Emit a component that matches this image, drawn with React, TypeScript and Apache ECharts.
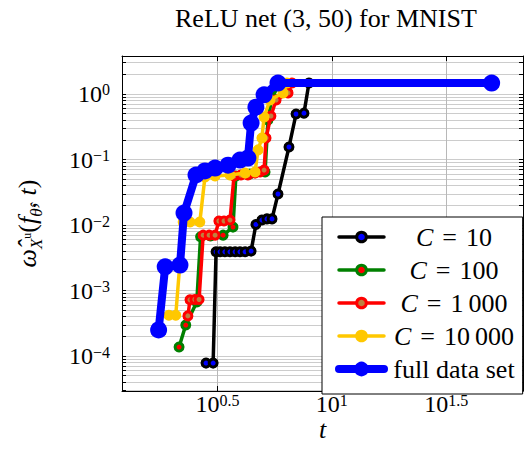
import React, { useEffect, useRef } from "react";
import * as echarts from "echarts";

const titleText = "ReLU net (3, 50) for MNIST";
const seriesNames = ["C = 10", "C = 100", "C = 1 000", "C = 10 000", "full data set"];
const legendLabels = [
  "{c|C}{e|=}{n|10}",
  "{c|C}{e|=}{n|100}",
  "{c|C}{e|=}{n|1\u2009000}",
  "{c|C}{e|=}{n|10\u2009000}",
  "{n|full data set}",
];

// C = 10
const tC10 = [2.82, 3.03, 3.12, 3.25, 3.41, 3.59, 3.78, 3.97, 4.18, 4.44, 4.66, 4.95, 5.21, 5.48, 5.82, 6.5, 6.98, 7.56, 7.95, 50];
const wC10 = [7.8e-5, 7.8e-5, 3.9e-3, 3.9e-3, 3.9e-3, 3.9e-3, 3.9e-3, 3.9e-3, 3.9e-3, 4.0e-3, 0.0102, 0.0119, 0.0124, 0.0124, 0.0297, 0.155, 0.495, 0.51, 1.47, 1.47];
// C = 100
const tC100 = [2.15, 2.3, 2.57, 2.67, 2.95, 3.35, 3.7, 3.81, 4.38, 5.11, 5.26, 5.48, 5.95, 50];
const wC100 = [1.37e-4, 2.97e-4, 6.7e-4, 6.6e-3, 6.8e-3, 7.0e-3, 9.3e-3, 0.056, 0.06, 0.0645, 0.4, 0.9, 1.47, 1.47];
// C = 1 000
const tC1000 = [2.35, 2.4, 2.52, 2.63, 2.74, 2.91, 3.09, 3.21, 3.38, 3.59, 3.74, 4.01, 4.3, 4.62, 4.86, 5.06, 5.16, 5.42, 5.71, 6.44, 6.7, 50];
const wC1000 = [4.1e-4, 7.2e-4, 7.3e-4, 7.3e-4, 7.0e-3, 7.0e-3, 7.0e-3, 0.0115, 0.0115, 0.0119, 0.056, 0.058, 0.058, 0.062, 0.0645, 0.069, 0.213, 0.461, 0.81, 1.04, 1.47, 1.47];
// C = 10 000
const tC10000 = [1.94, 2.08, 2.24, 2.4, 2.65, 2.79, 3.09, 3.59, 4.18, 4.62, 4.76, 4.95, 5.06, 5.37, 6.12, 6.37, 50];
const wC10000 = [4.2e-4, 4.2e-4, 0.0111, 0.0111, 0.0111, 0.054, 0.056, 0.058, 0.062, 0.0645, 0.14, 0.213, 0.446, 0.81, 1.04, 1.47, 1.47];
// full data set
const tFull = [1.75, 1.87, 2.17, 2.26, 2.55, 2.79, 3.09, 3.52, 3.97, 4.3, 4.44, 4.66, 5.06, 5.82, 50];
const wFull = [2.5e-4, 2.3e-3, 2.45e-3, 0.0152, 0.058, 0.067, 0.074, 0.082, 0.098, 0.105, 0.36, 0.63, 0.97, 1.47, 1.47];

const xTickExps = [0.5, 1, 1.5];
const xTickLabels = ["0.5", "1", "1.5"];
const yTickExps = [-4, -3, -2, -1, 0];
const yTickLabels = ["\u22124", "\u22123", "\u22122", "\u22121", "0"];
const minorMultipliers = [1, 2, 3, 4, 5, 6, 7, 8, 9];

const xLogMin = 0.083;
const xLogMax = 1.836;
const yLogMin = -4.534;
const yLogMax = 0.58;

const styles = [
  { line: "#000000", lw: 3.5, fill: "#0000ff", border: "#000000", size: 8, bw: 3, lgBw: 3 },
  { line: "#008000", lw: 3.5, fill: "#ff0000", border: "#008000", size: 8, bw: 3, lgBw: 3 },
  { line: "#ff0000", lw: 3.5, fill: "#bf8040", border: "#ff0000", size: 8, bw: 3, lgBw: 3 },
  { line: "#ffc800", lw: 3.5, fill: "#ffc800", border: "#ffc800", size: 8, bw: 3, lgBw: 3 },
  { line: "#0000ff", lw: 8, fill: "#0000ff", border: "#0000ff", size: 17, bw: 0, lgBw: 5 },
];

const SERIF = "Liberation Serif";

export default function App() {
  const ref = useRef<HTMLDivElement>(null);
  useEffect(() => {
    document.body.style.margin = "0";
    const chart = echarts.init(ref.current!, null, { renderer: "svg" });
    const ts = [tC10, tC100, tC1000, tC10000, tFull];
    const ws = [wC10, wC100, wC1000, wC10000, wFull];

    const yAll: number[] = [];
    for (let e = -5; e <= 0; e++) {
      for (const k of minorMultipliers) {
        const v = e + Math.log10(k);
        if (v >= yLogMin && v <= yLogMax) yAll.push(v);
      }
    }

    const fmtY = (v: number) => {
      const i = yTickExps.findIndex((e) => Math.abs(e - v) < 1e-6);
      return i < 0 ? "" : `{b|10}{s|${yTickLabels[i]}}`;
    };
    const fmtX = (v: number) => {
      const i = xTickExps.findIndex((e) => Math.abs(e - v) < 1e-6);
      return i < 0 ? "" : `{b|10}{s|${xTickLabels[i]}}`;
    };
    const tickRich = {
      b: { fontFamily: SERIF, fontSize: 24, lineHeight: 24, color: "#000", verticalAlign: "middle" },
      s: { fontFamily: SERIF, fontSize: 16, lineHeight: 16, color: "#000", verticalAlign: "top" },
    };

    const series = ts.map((t, si) => ({
      type: "line",
      name: seriesNames[si],
      data: t.map((x, i) => [Math.log10(x), Math.log10(ws[si][i])]),
      xAxisIndex: 0,
      yAxisIndex: 0,
      symbol: "circle",
      symbolSize: styles[si].size,
      showSymbol: true,
      silent: true,
      lineStyle: { color: styles[si].line, width: styles[si].lw, cap: "round", join: "round" },
      itemStyle: { color: styles[si].fill, borderColor: styles[si].border, borderWidth: styles[si].bw },
      emphasis: { disabled: true },
      z: 2 + si,
    }));

    const option: any = {
      animation: false,
      textStyle: { fontFamily: SERIF },
      title: {
        text: titleText,
        left: 170,
        top: 0,
        textStyle: { fontFamily: SERIF, fontSize: 26, fontWeight: "normal", color: "#000" },
      },
      grid: { left: 122, right: 3, top: 56, bottom: 68, containLabel: false },
      legend: {
        left: 322,
        top: 217,
        orient: "vertical",
        selectedMode: false,
        backgroundColor: "#fff",
        borderColor: "#000",
        borderWidth: 1,
        padding: [7, 8, 12, 13],
        itemGap: 7,
        itemWidth: 45,
        itemHeight: 12,
        formatter: (name: string) => legendLabels[seriesNames.indexOf(name)],
        textStyle: {
          fontFamily: SERIF,
          fontSize: 26,
          width: 130,
          rich: {
            c: { fontFamily: SERIF, fontSize: 26, fontStyle: "italic", lineHeight: 28, align: "center", color: "#000" },
            e: { fontFamily: SERIF, fontSize: 26, lineHeight: 28, padding: [0, 9, 0, 9], align: "center", color: "#000" },
            n: { fontFamily: SERIF, fontSize: 26, lineHeight: 28, align: "center", color: "#000" },
          },
        },
        data: seriesNames.map((n, i) => ({
          name: n,
          lineStyle: { color: styles[i].line, width: styles[i].lw },
          itemStyle: { color: styles[i].fill, borderColor: styles[i].border, borderWidth: styles[i].lgBw },
        })),
        z: 10,
      },
      xAxis: [
        {
          type: "value",
          position: "bottom",
          min: xLogMin,
          max: xLogMax,
          axisLine: { show: true, onZero: false, lineStyle: { color: "#000", width: 1 } },
          axisTick: { show: true, inside: true, length: 5, customValues: xTickExps, lineStyle: { color: "#000" } },
          axisLabel: { customValues: xTickExps, formatter: fmtX, margin: 1, fontFamily: SERIF, rich: tickRich },
          splitLine: { show: true, lineStyle: { color: "#b8b8b8", width: 1 } },
          name: "t",
          nameLocation: "middle",
          nameMoveOverlap: false,
          nameGap: 25,
          nameTextStyle: { fontFamily: SERIF, fontStyle: "italic", fontSize: 26, color: "#000" },
        },
        {
          type: "value",
          position: "top",
          min: xLogMin,
          max: xLogMax,
          axisLine: { show: true, onZero: false, lineStyle: { color: "#000", width: 1 } },
          axisTick: { show: true, inside: true, length: 5, customValues: xTickExps, lineStyle: { color: "#000" } },
          axisLabel: { show: false },
          splitLine: { show: false },
        },
      ],
      yAxis: [
        {
          type: "value",
          position: "left",
          min: yLogMin,
          max: yLogMax,
          axisLine: { show: true, onZero: false, lineStyle: { color: "#000", width: 1 } },
          axisTick: { show: true, inside: true, length: 4, customValues: yAll, lineStyle: { color: "#000" } },
          axisLabel: { customValues: yTickExps, formatter: fmtY, margin: 12, fontFamily: SERIF, rich: tickRich },
          splitLine: { show: true, lineStyle: { color: "#cccccc", width: 1 } },
          name: "{w|\u03c9\u0302}{sx|X}{su|u}{p|(}{f|f}{st|\u03b8\u0302}{p|, }{f|t}{p|)}",
          nameLocation: "middle",
          nameRotate: 90,
          nameGap: 77,
          nameTextStyle: {
            fontFamily: SERIF,
            fontSize: 26,
            rich: {
              w: { fontFamily: SERIF, fontSize: 26, fontStyle: "italic", lineHeight: 36, verticalAlign: "middle", color: "#000" },
              sx: { fontFamily: SERIF, fontSize: 17, fontStyle: "italic", lineHeight: 17, verticalAlign: "bottom", color: "#000" },
              su: { fontFamily: SERIF, fontSize: 12, lineHeight: 22, verticalAlign: "middle", color: "#000" },
              p: { fontFamily: SERIF, fontSize: 26, lineHeight: 36, verticalAlign: "middle", color: "#000" },
              f: { fontFamily: SERIF, fontSize: 26, fontStyle: "italic", lineHeight: 36, verticalAlign: "middle", color: "#000" },
              st: { fontFamily: SERIF, fontSize: 17, fontStyle: "italic", lineHeight: 17, verticalAlign: "bottom", color: "#000" },
            },
          },
        },
        {
          type: "value",
          position: "right",
          min: yLogMin,
          max: yLogMax,
          axisLine: { show: true, onZero: false, lineStyle: { color: "#000", width: 1 } },
          axisTick: { show: true, inside: true, length: 4, customValues: yAll, lineStyle: { color: "#000" } },
          axisLabel: { show: false },
          splitLine: { show: false },
        },
      ],
      series,
    };
    chart.setOption(option);
    return () => chart.dispose();
  }, []);
  return <div ref={ref} style={{ width: 526, height: 459, position: "absolute", left: 0, top: 0 }} />;
}
